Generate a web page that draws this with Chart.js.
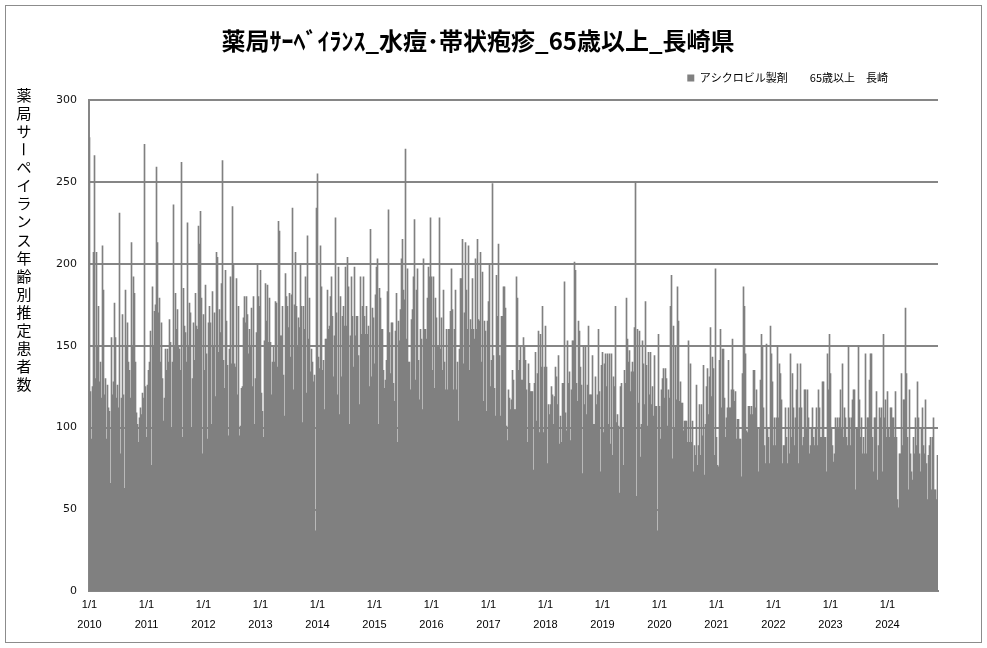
<!DOCTYPE html>
<html lang="ja">
<head>
<meta charset="utf-8">
<title>薬局サーベイランス 水痘・帯状疱疹 65歳以上 長崎県</title>
<script src="https://cdn.jsdelivr.net/npm/chart.js@4"></script>
<style>
  html, body { margin: 0; padding: 0; background: #fff; }
  #wrap { position: relative; width: 987px; height: 648px; }
</style>
</head>
<body>
<div id="wrap"><canvas id="grafico"></canvas></div>
<script>
// 1 値 = 描画の 1 列（約 6.4 日分）
const years = ["2010", "2011", "2012", "2013", "2014", "2015", "2016", "2017", "2018", "2019", "2020", "2021", "2022", "2023", "2024"];

const v2010 = [277,122,93,125,207,266,130,207,150,174,128,140,118,211,184,120,130,93,126,112,110,66,155,120,128,176,155,118,126,112,231,84,118,169,120,63,184,150,164,140,135,118,213,150,192,182,140,109,102,91,106,112,108,121,118,273,125];
const v2011 = [94,126,135,140,159,77,186,150,171,175,259,213,170,179,140,164,130,104,118,148,135,148,140,166,152,99,140,236,150,182,160,172,150,148,135,262,94,185,162,158,140,225,150,176,170,100,130,164,141,182,162,160,223,212,232,179,84];
const v2012 = [169,135,187,145,93,164,174,164,102,183,150,170,119,207,204,146,172,158,188,263,141,124,196,165,138,95,148,192,139,235,200,139,137,191,120,174,95,101,124,125,167,180,164,180,169,145,160,150,173,125,180,102,130,158,200,180,174];
const v2013 = [196,121,110,94,153,188,165,187,152,179,152,120,140,149,140,177,176,137,226,220,156,156,174,132,107,194,180,174,161,182,143,181,234,123,175,207,174,150,167,161,200,174,103,174,160,192,121,217,154,179,134,148,140,128,132,37,234];
const v2014 = [255,143,136,211,186,135,141,111,154,154,184,160,162,180,192,168,131,156,228,170,120,198,108,180,131,168,174,162,198,162,204,186,102,156,192,168,137,198,156,168,168,144,114,192,157,174,192,168,157,174,157,162,125,221,131,173,167];
const v2015 = [139,181,198,203,102,185,179,160,160,135,124,129,141,183,233,158,133,164,164,127,116,159,182,91,165,153,172,203,215,184,178,270,154,197,140,140,123,166,172,192,227,129,184,197,141,117,160,154,111,203,160,160,154,179,198,192,228];
const v2016 = [192,135,192,124,179,167,149,150,228,148,167,135,184,140,123,160,123,160,160,171,197,172,123,160,184,123,140,104,148,191,191,215,139,170,213,184,160,211,135,166,160,191,160,154,203,160,215,166,165,207,140,195,116,165,159,110,165];
const v2017 = [177,200,125,141,249,144,124,107,193,168,212,144,107,168,168,186,186,173,101,92,123,118,111,117,135,129,111,111,192,179,135,141,149,129,129,155,149,141,123,91,139,127,122,122,122,74,127,146,104,133,159,97,157,137,174,97,137];
const v2018 = [162,137,78,114,108,114,125,120,102,119,137,131,114,144,90,107,91,127,127,189,109,98,153,127,134,92,123,153,153,201,196,127,116,165,159,137,126,72,150,114,150,108,126,162,120,120,120,144,102,102,131,114,120,160,122,73,138];
const v2019 = [146,97,139,145,125,145,102,145,90,145,83,131,125,174,103,108,101,60,125,127,99,77,135,127,179,154,140,147,122,134,140,134,161,250,58,160,115,159,82,102,153,139,114,177,138,101,146,120,146,114,125,107,144,113,113,37,157];
const v2020 = [113,93,123,130,136,118,136,130,101,123,118,174,193,81,162,99,150,117,186,165,116,128,115,115,98,104,104,104,91,153,91,139,91,104,73,89,83,126,77,89,114,83,114,95,138,71,102,125,136,108,131,161,119,143,136,83,197];
const v2021 = [94,77,76,141,160,112,148,148,118,94,106,112,141,112,112,123,154,123,116,122,93,105,105,93,93,70,133,186,174,145,98,97,113,113,108,113,108,135,135,112,123,100,73,99,129,157,150,112,89,78,151,99,94,78,162,145,128];
const v2022 = [89,106,89,106,150,106,139,133,117,78,89,89,112,94,78,112,84,145,94,133,112,89,106,123,139,78,112,139,112,89,94,123,123,100,123,106,84,89,100,112,94,89,100,112,89,123,112,94,94,128,128,94,94,73,145,123,157];
const v2023 = [133,99,89,79,84,106,100,106,100,106,123,99,139,94,112,106,94,89,150,106,89,106,117,123,123,62,100,99,150,117,94,106,84,94,84,145,84,106,106,129,145,145,94,73,106,106,122,68,89,112,106,112,73,157,106,117,94];
const v2024 = [122,100,94,112,112,106,106,94,122,94,56,51,84,84,133,89,117,117,173,133,94,62,123,84,73,68,94,84,106,89,128,106,84,73,99,112,89,84,117,78,56,83,89,94,62,94,106,62,62,56,83];

const tickDay = "1/1";
const titulo = "薬局ｻｰﾍﾞｲﾗﾝｽ_水痘･帯状疱疹_65歳以上_長崎県";
const serie = "アシクロビル製剤　　65歳以上　長崎";
const eixoY = "薬局サーペイランス年齢別推定患者数";

const porAno = [v2010, v2011, v2012, v2013, v2014, v2015, v2016, v2017, v2018, v2019, v2020, v2021, v2022, v2023, v2024];

// rótulos e valores montados a partir dos arrays de cada ano
const labels = [];
const valores = [];
const inicioAno = [];
porAno.forEach((arr, k) => {
  inicioAno.push(labels.length);
  arr.forEach((v, i) => {
    labels.push(years[k] + "-" + (i + 1));
    valores.push(v);
  });
});

const CINZA = "#808080";
const GRADE = "#868686";
const PAD_LEG = 23.2;

// título do eixo Y escrito na vertical + moldura externa
const extras = {
  id: "extras",
  afterLayout(chart) {
    // empurra título e legenda para as posições do original
    chart.titleBlock.left = 18;
    chart.legend.top -= 6.5;
    chart.legend.bottom -= 6.5;
    chart.legend.right = 888 + PAD_LEG;
  },
  afterDraw(chart) {
    const ctx = chart.ctx;
    ctx.save();
    ctx.fillStyle = "#000";
    ctx.font = "15px 'Noto Sans CJK JP'";
    ctx.textAlign = "center";
    ctx.textBaseline = "middle";
    [...eixoY].forEach((c, i) => {
      const y = 95 + i * 18.1;
      if (c === "ー") {
        ctx.save();
        ctx.translate(24, y);
        ctx.rotate(Math.PI / 2);
        ctx.fillText(c, 0, 0);
        ctx.restore();
      } else {
        ctx.fillText(c, 24, y);
      }
    });
    ctx.strokeStyle = "#8c8c8c";
    ctx.lineWidth = 1;
    ctx.strokeRect(5.5, 5.5, 976, 637);
    ctx.restore();
  }
};

new Chart(document.getElementById("grafico"), {
  type: "bar",
  data: {
    labels: labels,
    datasets: [{
      label: serie,
      data: valores,
      backgroundColor: CINZA,
      borderWidth: 0,
      barPercentage: 1,
      categoryPercentage: 1
    }]
  },
  plugins: [extras],
  options: {
    responsive: true,
    maintainAspectRatio: false,
    animation: false,
    layout: { padding: { left: 0, right: 49, top: 0, bottom: 9 } },
    plugins: {
      title: {
        display: true,
        text: titulo,
        color: "#000",
        font: { family: "'Noto Sans CJK JP'", size: 24, weight: "bold" },
        padding: { top: 26, bottom: 1 }
      },
      legend: {
        display: true,
        position: "top",
        align: "end",
        labels: {
          color: "#000",
          font: { family: "'Noto Sans CJK JP'", size: 11 },
          boxWidth: 7,
          boxHeight: 7,
          padding: PAD_LEG
        }
      },
      tooltip: { enabled: false }
    },
    scales: {
      x: {
        type: "category",
        grid: { display: false, drawTicks: false },
        border: { display: true, color: GRADE, width: 2 },
        afterBuildTicks: s => { s.ticks = inicioAno.map(v => ({ value: v })); },
        ticks: {
          autoSkip: false,
          maxRotation: 0,
          minRotation: 0,
          padding: 4,
          color: "#000",
          font: { family: "'Liberation Sans'", size: 11, lineHeight: 1.8 },
          callback: (v, i) => [tickDay, years[i]]
        }
      },
      y: {
        min: 0,
        max: 300,
        afterFit: s => { s.width = 89; },
        grid: { color: GRADE, lineWidth: 2, drawTicks: false },
        border: { display: true, color: GRADE, width: 2 },
        ticks: {
          stepSize: 50,
          padding: 12,
          color: "#111",
          font: { family: "'DejaVu Sans'", size: 11 }
        }
      }
    }
  }
});
</script>
</body>
</html>
